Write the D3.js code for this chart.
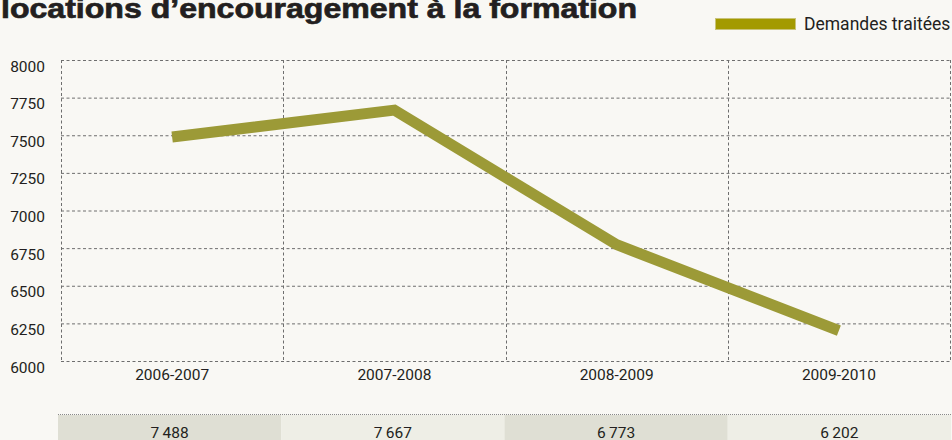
<!DOCTYPE html>
<html>
<head>
<meta charset="utf-8">
<script src="https://cdn.jsdelivr.net/npm/d3@7"></script>
<style>
  html, body { margin: 0; padding: 0; background: #f9f8f4; }
  svg { display: block; }
</style>
</head>
<body>
<svg id="chart" width="952" height="440"></svg>
<script>
// Data
const titleText = "locations d\u2019encouragement \u00e0 la formation";
const seriesName = "Demandes trait\u00e9es";
const categories = ["2006-2007", "2007-2008", "2008-2009", "2009-2010"];
const values = [7488, 7667, 6773, 6202];
const yTicks = [6000, 6250, 6500, 6750, 7000, 7250, 7500, 7750, 8000];

const W = 952, H = 440;
const plot = { left: 61, right: 950, top: 60, bottom: 361 };
const lineColor = "#9c9a37";
const legendColor = "#a39a00";
const gridColor = "#6e6e6e";
const textColor = "#231f20";
const font = "Roboto, 'Liberation Sans', sans-serif";

const svg = d3.select("#chart");
svg.append("rect").attr("width", W).attr("height", H).attr("fill", "#f9f8f4");

const x = d3.scaleBand().domain(categories).range([plot.left, plot.right]);
const y = d3.scaleLinear().domain([6000, 8000]).range([plot.bottom, plot.top]);

// Title (heavy condensed)
svg.append("text")
  .attr("x", 1).attr("y", 18)
  .attr("font-family", "'Liberation Sans Narrow', 'Liberation Sans', sans-serif")
  .attr("font-weight", "bold")
  .attr("font-size", 28)
  .attr("fill", textColor)
  .attr("stroke", textColor)
  .attr("stroke-width", 0.7)
  .attr("textLength", 636)
  .attr("lengthAdjust", "spacingAndGlyphs")
  .text(titleText);

// Legend
const legend = svg.append("g");
legend.append("rect")
  .attr("x", 715.5).attr("y", 18.5).attr("width", 80).attr("height", 11)
  .attr("fill", legendColor).attr("stroke", "#c9c37a").attr("stroke-width", 1);
legend.append("text")
  .attr("x", 804).attr("y", 29.5)
  .attr("font-family", font).attr("font-size", 17.5)
  .attr("fill", textColor)
  .text(seriesName);

// Horizontal grid (y axis)
const yAxis = d3.axisLeft(y).tickValues(yTicks).tickFormat(d3.format("d"))
  .tickSize(-(plot.right - plot.left)).tickPadding(16);
const gy = svg.append("g").attr("transform", `translate(${plot.left},0)`).call(yAxis);
gy.select(".domain").remove();
gy.selectAll(".tick line")
  .attr("stroke", gridColor).attr("stroke-width", 1).attr("stroke-dasharray", "3,2.5");
gy.selectAll(".tick text")
  .attr("font-family", font).attr("font-size", 15.5).attr("fill", textColor)
  .attr("dy", null).attr("y", 11).attr("x", -16);

// Vertical grid at band edges
const edges = categories.map(c => x(c)).concat([x(categories[categories.length - 1]) + x.bandwidth()]);
svg.append("g").selectAll("line").data(edges).join("line")
  .attr("x1", d => Math.round(d) + 0.5).attr("x2", d => Math.round(d) + 0.5)
  .attr("y1", plot.top).attr("y2", plot.bottom)
  .attr("stroke", gridColor).attr("stroke-width", 1).attr("stroke-dasharray", "3,2.5");

// Category labels
const xAxis = d3.axisBottom(x).tickSize(0).tickPadding(0);
const gx = svg.append("g").attr("transform", `translate(0,${plot.bottom})`).call(xAxis);
gx.select(".domain").remove();
gx.selectAll(".tick text")
  .attr("font-family", font).attr("font-size", 15.5).attr("fill", textColor)
  .attr("dy", null).attr("y", 19);

// Series line
const line = d3.line().x((d, i) => x(categories[i]) + x.bandwidth() / 2).y(d => y(d));
svg.append("path")
  .datum(values)
  .attr("d", line)
  .attr("fill", "none")
  .attr("stroke", lineColor)
  .attr("stroke-width", 11)
  .attr("stroke-linejoin", "miter");

// Value table under the chart
const tx = d3.scaleBand().domain(categories).range([58, 951]);
const fmt = d3.formatLocale({ decimal: ",", thousands: "\u2009", grouping: [3], currency: ["", " \u20ac"] }).format(",d");
const table = svg.append("g");
table.selectAll("rect").data(categories).join("rect")
  .attr("x", d => tx(d)).attr("y", 415)
  .attr("width", tx.bandwidth()).attr("height", 25)
  .attr("fill", (d, i) => i % 2 === 0 ? "#dfdfd4" : "#eeeee6");
table.append("line")
  .attr("x1", 58).attr("x2", 952).attr("y1", 414.5).attr("y2", 414.5)
  .attr("stroke", "#8a8a8a").attr("stroke-width", 1).attr("stroke-dasharray", "1,1");
table.selectAll("text").data(values).join("text")
  .attr("x", (d, i) => tx(categories[i]) + tx.bandwidth() / 2)
  .attr("y", 437.5)
  .attr("text-anchor", "middle")
  .attr("font-family", font).attr("font-size", 15.5).attr("fill", textColor)
  .text(d => fmt(d));
</script>
</body>
</html>
